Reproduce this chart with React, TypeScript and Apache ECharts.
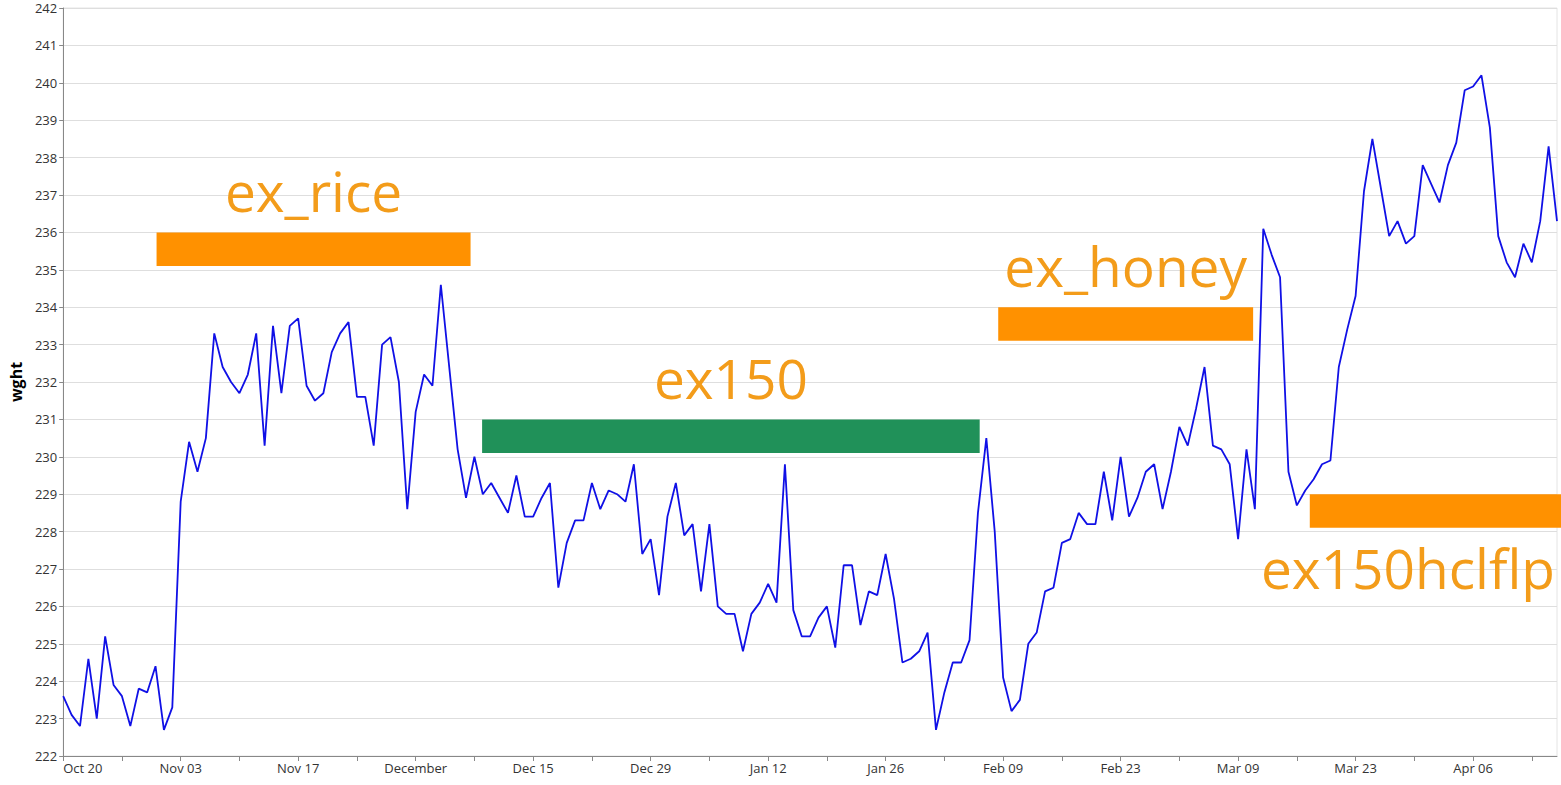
import React, { useEffect, useRef } from "react";
import * as echarts from "echarts";

// ---- data ----
const startDate = "2014-10-20";
const wght: number[] = [
  223.6, 223.1, 222.8, 224.6, 223.0, 225.2, 223.9, 223.6, 222.8, 223.8,
  223.7, 224.4, 222.7, 223.3, 228.8, 230.4, 229.6, 230.5, 233.3, 232.4,
  232.0, 231.7, 232.2, 233.3, 230.3, 233.5, 231.7, 233.5, 233.7, 231.9,
  231.5, 231.7, 232.8, 233.3, 233.6, 231.6, 231.6, 230.3, 233.0, 233.2,
  232.0, 228.6, 231.2, 232.2, 231.9, 234.6, 232.4, 230.2, 228.9, 230.0,
  229.0, 229.3, 228.9, 228.5, 229.5, 228.4, 228.4, 228.9, 229.3, 226.5,
  227.7, 228.3, 228.3, 229.3, 228.6, 229.1, 229.0, 228.8, 229.8, 227.4,
  227.8, 226.3, 228.4, 229.3, 227.9, 228.2, 226.4, 228.2, 226.0, 225.8,
  225.8, 224.8, 225.8, 226.1, 226.6, 226.1, 229.8, 225.9, 225.2, 225.2,
  225.7, 226.0, 224.9, 227.1, 227.1, 225.5, 226.4, 226.3, 227.4, 226.2,
  224.5, 224.6, 224.8, 225.3, 222.7, 223.7, 224.5, 224.5, 225.1, 228.5,
  230.5, 228.0, 224.1, 223.2, 223.5, 225.0, 225.3, 226.4, 226.5, 227.7,
  227.8, 228.5, 228.2, 228.2, 229.6, 228.3, 230.0, 228.4, 228.9, 229.6,
  229.8, 228.6, 229.6, 230.8, 230.3, 231.3, 232.4, 230.3, 230.2, 229.8,
  227.8, 230.2, 228.6, 236.1, 235.4, 234.8, 229.6, 228.7, 229.1, 229.4,
  229.8, 229.9, 232.4, 233.4, 234.3, 237.1, 238.5, 237.2, 235.9, 236.3,
  235.7, 235.9, 237.8, 237.3, 236.8, 237.8, 238.4, 239.8, 239.9, 240.2,
  238.8, 235.9, 235.2, 234.8, 235.7, 235.2, 236.3, 238.3, 236.3,
];

// annotation periods
const annoNames = ["ex_rice", "ex150", "ex_honey", "ex150hclflp"];
const annoStart = ["2014-10-31T03:00", "2014-12-08T22:00", "2015-02-08T10:00", "2015-03-17T13:00"];
const annoEnd = ["2014-12-07T13:00", "2015-02-06T05:00", "2015-03-10T19:00", "2015-04-25T00:00"];
const annoTop = [236.0, 231.0, 234.0, 229.0];
const annoBottom = [235.1, 230.1, 233.1, 228.1];
const annoColor = ["#FF9100", "#209159", "#FF9100", "#FF9100"];
const annoLabelSide = ["above", "above", "above", "below"];

const yTicks = { min: 222, max: 242, step: 1 };

const DAY = 86400000;
const MONTHS = ["Jan", "Feb", "Mar", "Apr", "May", "Jun", "Jul", "Aug", "Sep", "Oct", "Nov", "Dec"];
const MONTHS_FULL = ["January", "February", "March", "April", "May", "June", "July", "August", "September", "October", "November", "December"];

const utc = (s: string) => {
  const [d, t] = s.split("T");
  const [y, m, dd] = d.split("-").map(Number);
  let h = 0, mi = 0;
  if (t) [h, mi] = t.split(":").map(Number);
  return Date.UTC(y, m - 1, dd, h, mi);
};

const fmtDate = (v: number) => {
  const d = new Date(v);
  const day = d.getUTCDate();
  if (day === 1) return MONTHS_FULL[d.getUTCMonth()];
  return MONTHS[d.getUTCMonth()] + " " + String(day).padStart(2, "0");
};

const FONT = '"Open Sans", "Noto Sans", sans-serif';

export default function App() {
  const ref = useRef<HTMLDivElement>(null);
  useEffect(() => {
    if (!ref.current) return;
    const chart = echarts.init(ref.current, undefined, { renderer: "svg" });
    const t0 = utc(startDate);
    const lineData = wght.map((v, i) => [t0 + i * DAY, v]);
    const tLast = t0 + (wght.length - 1) * DAY;
    const tMax = tLast;
    const tickVals: number[] = [];
    for (let t = t0; t <= tLast; t += 7 * DAY) tickVals.push(t);
    const labelVals = tickVals.filter((_, i) => i % 2 === 0);

    const annoData = annoNames.map((n, i) => [utc(annoStart[i]), utc(annoEnd[i]), annoTop[i], annoBottom[i]]);

    const canvas = document.createElement("canvas");
    const ctx = canvas.getContext("2d")!;
    const labelFontSize = 55;
    ctx.font = `${labelFontSize}px ${FONT}`;

    chart.setOption({
      animation: false,
      backgroundColor: "#fff",
      grid: { left: 60, right: 4, top: 8, bottom: 29, show: true, borderColor: "#e4e4e4", borderWidth: 1 },
      xAxis: {
        type: "value",
        min: t0,
        max: tMax,
        axisLine: { show: true, lineStyle: { color: "#888", width: 1 } },
        axisTick: { show: true, length: 5, lineStyle: { color: "#888" }, customValues: tickVals },
        axisLabel: {
          customValues: labelVals,
          formatter: (v: number) => fmtDate(v),
          color: "#333",
          fontSize: 13,
          fontFamily: FONT,
          margin: 5,
          alignMinLabel: "left",
          showMinLabel: true,
          showMaxLabel: true,
          hideOverlap: false,
        },
        splitLine: { show: false },
      },
      yAxis: {
        type: "value",
        min: yTicks.min,
        max: yTicks.max,
        interval: yTicks.step,
        name: "wght",
        nameLocation: "middle",
        nameGap: 37,
        nameTextStyle: { fontWeight: "bold", fontSize: 16, color: "#000", fontFamily: FONT },
        axisLine: { show: true, lineStyle: { color: "#888", width: 1 } },
        axisTick: { show: true, length: 4, lineStyle: { color: "#888" } },
        axisLabel: { color: "#333", fontSize: 13, fontFamily: FONT, margin: 6 },
        splitLine: { show: true, lineStyle: { color: "#dedede", width: 1 } },
      },
      series: [
        {
          type: "line",
          data: lineData,
          symbol: "none",
          lineStyle: { color: "#1010e6", width: 1.8 },
          z: 2,
        },
        {
          type: "custom",
          clip: false,
          z: 3,
          encode: { x: [0, 1], y: [2, 3] },
          data: annoData,
          renderItem: (params: any, api: any) => {
            const i = params.dataIndex;
            const p1 = api.coord([api.value(0), api.value(2)]);
            const p2 = api.coord([api.value(1), api.value(3)]);
            const cs = params.coordSys;
            const w = ctx.measureText(annoNames[i]).width;
            let cx = (p1[0] + Math.min(p2[0], cs.x + cs.width)) / 2;
            cx = Math.min(cx, cs.x + cs.width - w / 2 - 2);
            const above = annoLabelSide[i] === "above";
            const ty = above ? p1[1] - 42 : p2[1] + 40;
            return {
              type: "group",
              children: [
                {
                  type: "rect",
                  shape: { x: p1[0], y: p1[1], width: p2[0] - p1[0], height: p2[1] - p1[1] },
                  style: { fill: annoColor[i] },
                },
                {
                  type: "text",
                  style: {
                    text: annoNames[i],
                    x: cx,
                    y: ty,
                    fill: "#F39C1A",
                    fontSize: labelFontSize,
                    fontFamily: FONT,
                    align: "center",
                    verticalAlign: "middle",
                  },
                },
              ],
            };
          },
        },
      ],
    });
    return () => chart.dispose();
  }, []);
  return <div ref={ref} style={{ position: "fixed", left: 0, top: 0, width: 1561, height: 785 }} />;
}
